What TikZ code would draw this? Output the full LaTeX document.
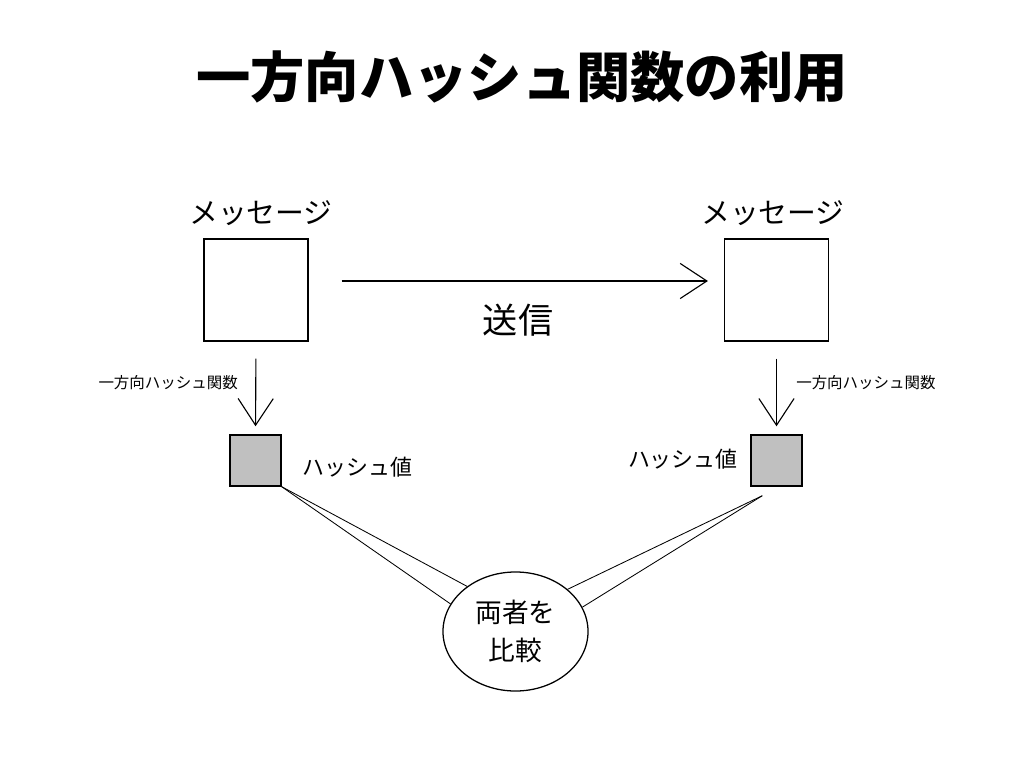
\documentclass[tikz,border=0pt]{standalone}
\usepackage{fontspec}
\setmainfont{Noto Sans CJK JP}
\usetikzlibrary{arrows.meta,shapes.geometric,calc}
\definecolor{hashgray}{RGB}{192,192,192}
\tikzset{
  msgbox/.style={draw, line width=1pt, minimum width=2.6cm, minimum height=2.55cm, inner sep=0pt},
  hashbox/.style={draw, line width=1pt, fill=hashgray, minimum size=1.275cm, inner sep=0pt},
  barb/.style={-{Straight Barb[length=19pt,width=25pt,line width=0.8pt]}, line width=0.8pt},
  lbl/.style={inner sep=0pt, font=\fontsize{20.5}{24}\selectfont},
  small/.style={inner sep=0pt, font=\fontsize{11}{13}\selectfont},
}
\begin{document}
\begin{tikzpicture}[x=0.025cm, y=-0.025cm]
    \useasboundingbox (0,0) rectangle (1024,768);
    \node[inner sep=0pt, font=\fontsize{38.6}{45}\selectfont\bfseries] (title) at (522,77) {一方向ハッシュ関数の利用};
    % sender and receiver
    \node[msgbox] (msgL) at (256,290) {};
    \node[msgbox] (msgR) at (776.5,290) {};
    \node[lbl] (msgLt) at (261,213) {メッセージ};
    \node[lbl] (msgRt) at (773,213) {メッセージ};
    \draw[barb, shorten <=23.4pt, shorten >=11.3pt] ($(msgL.east)+(0,-9)$) -- ($(msgR.west)+(0,-9)$);
    \node[inner sep=0pt, font=\fontsize{25}{30}\selectfont] (send) at (518,320) {送信};
    % hash values
    \node[hashbox] (hashL) at (255.5,460.5) {};
    \node[hashbox] (hashR) at (776.5,460.5) {};
    \draw[barb, shorten <=12pt, shorten >=5.7pt] (msgL.south) -- (hashL.north);
    \draw[barb, shorten <=12pt, shorten >=5.7pt] (msgR.south) -- (hashR.north);
    \node[small, anchor=east] (fnL) at (238,383) {一方向ハッシュ関数};
    \node[small, anchor=west] (fnR) at (796,383) {一方向ハッシュ関数};
    \node[inner sep=0pt, anchor=west, font=\fontsize{15.6}{18}\selectfont] (valL) at (302,467) {ハッシュ値};
    \node[inner sep=0pt, anchor=east, font=\fontsize{15.6}{18}\selectfont] (valR) at (738,459) {ハッシュ値};
    % comparison
    \node[draw, ellipse, line width=0.9pt, minimum width=3.625cm, minimum height=2.975cm, inner sep=0pt, align=center,
      font=\fontsize{19}{27}\selectfont] (cmp) at (515.5,631.5) {両者を\\比較};
    \coordinate (tipR) at ($(hashR.south west)+(12,9)$);
    \draw[line width=0.6pt] (hashL.south east) -- (cmp.137);
    \draw[line width=0.6pt] (hashL.south east) -- (cmp.157);
    \draw[line width=0.6pt] (tipR) -- (cmp.39);
    \draw[line width=0.6pt] (tipR) -- (cmp.20);
\end{tikzpicture}
\end{document}
